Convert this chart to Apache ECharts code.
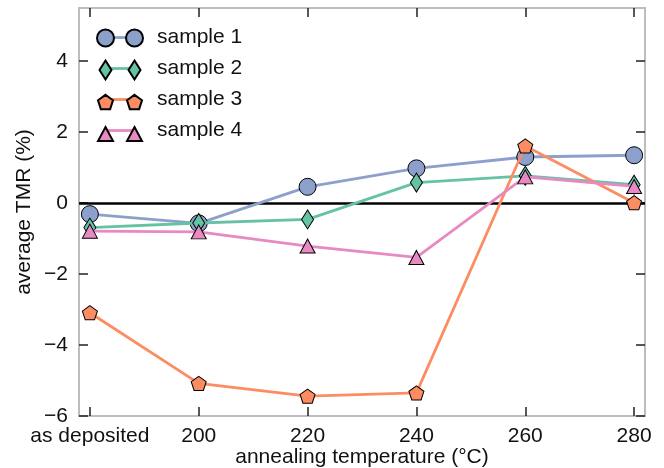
<!DOCTYPE html>
<html>
<head>
<meta charset="utf-8">
<script src="https://cdn.jsdelivr.net/npm/echarts@6/dist/echarts.min.js"></script>
<style>
html,body{margin:0;padding:0;background:#fff;}
#chart{width:664px;height:468px;}
</style>
</head>
<body>
<div id="chart"></div>
<script>
// ---- data ----
const categories = ['as deposited', '200', '220', '240', '260', '280'];
const seriesNames = ['sample 1', 'sample 2', 'sample 3', 'sample 4'];
const sample1 = [-0.31, -0.57, 0.46, 0.98, 1.30, 1.35];
const sample2 = [-0.69, -0.56, -0.46, 0.58, 0.77, 0.52];
const sample3 = [-3.09, -5.08, -5.44, -5.35, 1.61, 0.01];
const sample4 = [-0.79, -0.81, -1.21, -1.53, 0.74, 0.47];
const yTicks = [-6, -4, -2, 0, 2, 4];
const xTicks = [0, 1, 2, 3, 4, 5];

// ---- styles ----
const FONT = 'Liberation Sans, Arial, Helvetica, sans-serif';
const TXT = '#111';
const colors = ['#8DA0CB', '#66C2A5', '#FC8D62', '#E78AC3'];
const pentagon = 'path://M8,0 L15.61,5.53 L12.70,14.47 L3.30,14.47 L0.39,5.53 Z';
const symbols = ['circle', 'diamond', pentagon, 'triangle'];
const symbolSizes = [17, [12, 19], [15, 14.1], [15, 14]];
const allData = [sample1, sample2, sample3, sample4];

// legend icons (box 56 x 20, markers centred at x=8.5 and x=37.5)
const BOX = 'M0,0 L0,0 M56,20 L56,20 ';
const legendMarkerIcons = [
  'path://' + BOX + 'M0,10 A8.5,8.5 0 1,1 17,10 A8.5,8.5 0 1,1 0,10 Z M29,10 A8.5,8.5 0 1,1 46,10 A8.5,8.5 0 1,1 29,10 Z',
  'path://' + BOX + 'M8.5,0.5 L14.5,10 L8.5,19.5 L2.5,10 Z M37.5,0.5 L43.5,10 L37.5,19.5 L31.5,10 Z',
  'path://' + BOX + 'M8.5,2.85 L16.01,8.31 L13.14,17.14 L3.86,17.14 L0.99,8.31 Z M37.5,2.85 L45.01,8.31 L42.14,17.14 L32.86,17.14 L29.99,8.31 Z',
  'path://' + BOX + 'M8.5,3 L16,17 L1,17 Z M37.5,3 L45,17 L30,17 Z'
];
const legendLineIcon = 'path://' + BOX + 'M8.5,8.6 L37.5,8.6 L37.5,11.4 L8.5,11.4 Z';

function fmtY(v) { return v < 0 ? '\u2212' + Math.abs(v) : String(v); }

const series = seriesNames.map((name, i) => ({
  name: name,
  type: 'line',
  xAxisIndex: 0,
  yAxisIndex: 0,
  data: xTicks.map((x, j) => [x, allData[i][j]]),
  z: 2 + i,
  symbol: symbols[i],
  symbolSize: symbolSizes[i],
  symbolKeepAspect: false,
  lineStyle: { color: colors[i], width: 2.8 },
  itemStyle: { color: colors[i], borderColor: '#000', borderWidth: 1 },
  emphasis: { disabled: true },
  silent: true
}));
series[0].markLine = {
  silent: true,
  z: 1,
  symbol: ['none', 'none'],
  label: { show: false },
  lineStyle: { color: '#000', width: 2.5, type: 'solid' },
  data: [{ yAxis: 0 }]
};

const baseLegend = {
  orient: 'vertical',
  left: 96,
  top: 27,
  itemWidth: 56,
  itemHeight: 20,
  itemGap: 10,
  selectedMode: false,
  padding: 0,
  textStyle: { fontSize: 21, fontFamily: FONT, color: TXT, lineHeight: 20 }
};

const tickStyle = { color: '#222', width: 1.5 };

const option = {
  animation: false,
  backgroundColor: '#fff',
  grid: {
    left: 79, right: 19, top: 8, bottom: 52,
    containLabel: false,
    outerBoundsMode: 'none',
    show: true, borderColor: '#bdbdbd', borderWidth: 2, backgroundColor: 'transparent'
  },
  legend: [
    Object.assign({}, baseLegend, {
      z: 10,
      data: seriesNames.map((n) => ({ name: n, icon: legendLineIcon, itemStyle: { borderWidth: 0 } }))
    }),
    Object.assign({}, baseLegend, {
      z: 11,
      textStyle: { fontSize: 21, fontFamily: FONT, color: 'rgba(0,0,0,0)', lineHeight: 20 },
      data: seriesNames.map((n, i) => ({ name: n, icon: legendMarkerIcons[i] }))
    })
  ],
  xAxis: [
    {
      type: 'value', position: 'bottom', min: -0.1, max: 5.1,
      name: 'annealing temperature (\u00B0C)', nameLocation: 'middle', nameGap: 31,
      nameMoveOverlap: false,
      nameTextStyle: { fontSize: 21, fontFamily: FONT, color: TXT },
      axisLine: { show: false, onZero: false },
      splitLine: { show: false },
      axisTick: { show: true, inside: true, length: 9, customValues: xTicks, lineStyle: tickStyle },
      axisLabel: { show: true, margin: 10, customValues: xTicks, fontSize: 21, fontFamily: FONT, color: TXT,
        formatter: (v) => categories[Math.round(v)] }
    },
    {
      type: 'value', position: 'top', min: -0.1, max: 5.1,
      axisLine: { show: false, onZero: false },
      splitLine: { show: false },
      axisTick: { show: true, inside: true, length: 9, customValues: xTicks, lineStyle: tickStyle },
      axisLabel: { show: false }
    }
  ],
  yAxis: [
    {
      type: 'value', position: 'left', min: -6, max: 5.5,
      name: 'average TMR (%)', nameLocation: 'middle', nameGap: 44,
      nameMoveOverlap: false,
      nameTextStyle: { fontSize: 21, fontFamily: FONT, color: TXT },
      axisLine: { show: false, onZero: false },
      splitLine: { show: false },
      axisTick: { show: true, inside: true, length: 9, customValues: yTicks, lineStyle: tickStyle },
      axisLabel: { show: true, margin: 11, customValues: yTicks, fontSize: 21, fontFamily: FONT, color: TXT, formatter: fmtY }
    },
    {
      type: 'value', position: 'right', min: -6, max: 5.5,
      axisLine: { show: false, onZero: false },
      splitLine: { show: false },
      axisTick: { show: true, inside: true, length: 9, customValues: yTicks, lineStyle: tickStyle },
      axisLabel: { show: false }
    }
  ],
  series: series
};

const chart = echarts.init(document.getElementById('chart'), null, { renderer: 'canvas' });
chart.setOption(option);
</script>
</body>
</html>
